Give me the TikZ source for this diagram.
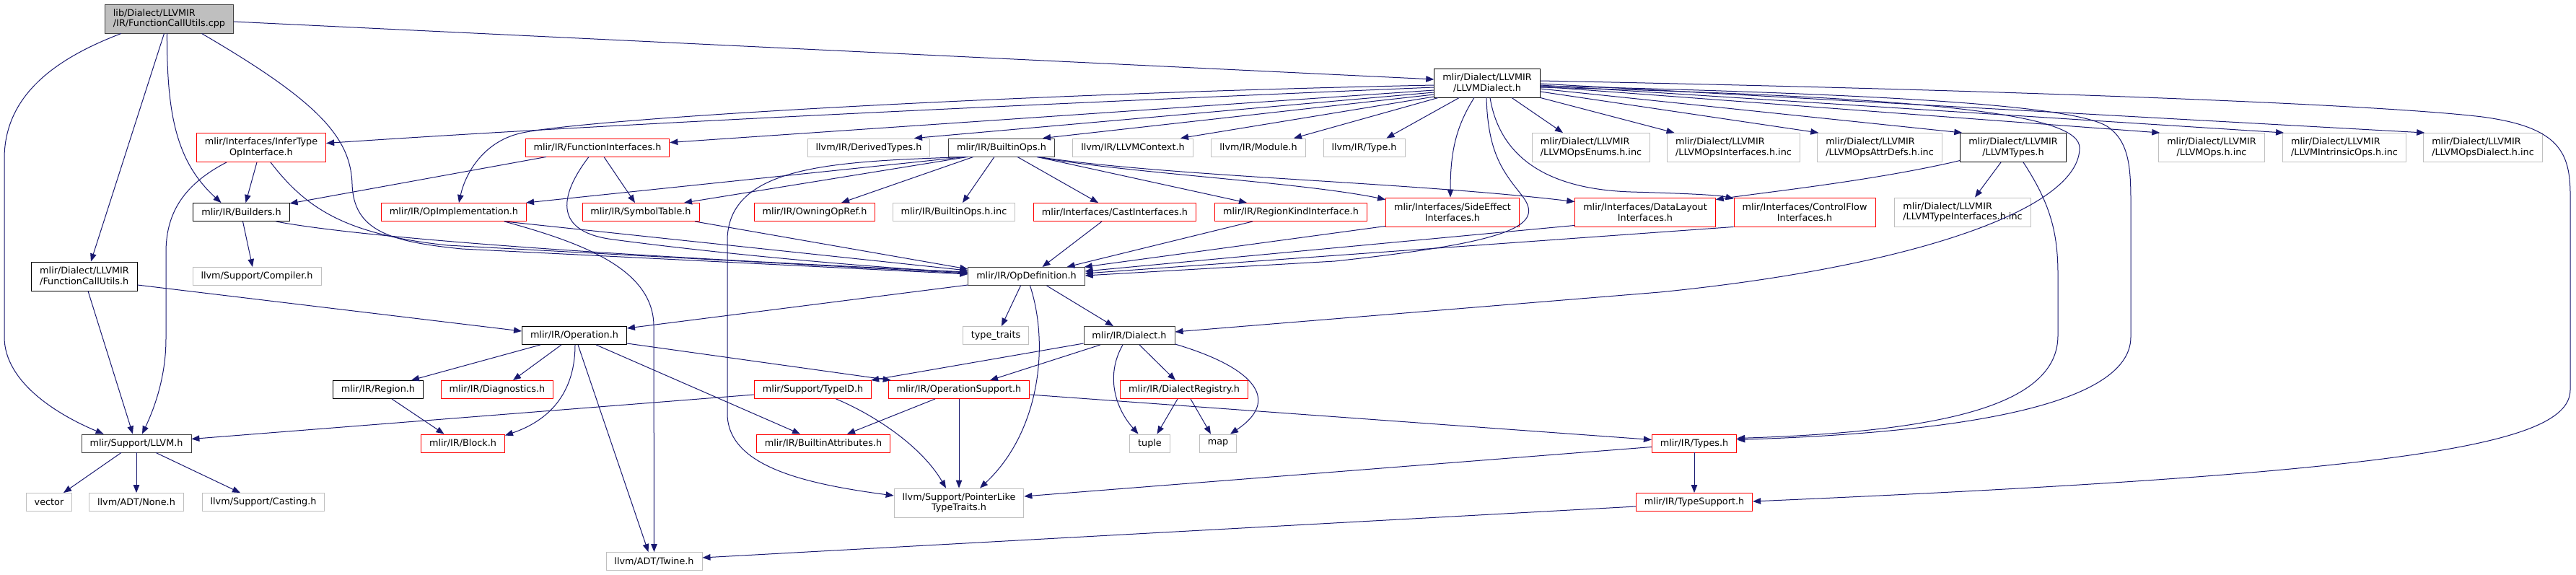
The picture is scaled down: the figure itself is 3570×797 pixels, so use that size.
\documentclass[tikz,border=0pt]{standalone}
\usepackage{fontspec}
\setmainfont{DejaVu Sans}
\usepackage{xcolor}
\usetikzlibrary{arrows.meta}
\definecolor{edgeblue}{HTML}{191970}
\definecolor{boxgray}{HTML}{BFBFBF}
\definecolor{boxdark}{HTML}{404040}

\begin{document}
\begin{tikzpicture}[x=1pt, y=-1pt,
    >={Triangle[length=11pt,width=8.5pt]},
    file/.style={draw, line width=0.9pt, fill=white, inner xsep=11.5pt, inner ysep=2pt,
        minimum height=25pt, align=center, font=\fontsize{12.8}{14.6}\selectfont},
    two/.style={minimum height=40pt},
    doc/.style={file, draw=black},
    dark/.style={file, draw=boxdark},
    trunc/.style={file, draw=red},
    ext/.style={file, draw=boxgray},
    dep/.style={->, color=edgeblue, line width=1pt}]
    \useasboundingbox (0,0) rectangle (3570,797);

    % 1. Files, row by row
    \node[file, fill=boxgray, draw=boxdark, two, align=left] (root) at (234.5,26) {lib/Dialect/LLVMIR\\/IR/FunctionCallUtils.cpp};
    \node[doc, two] (dial) at (2061,115) {mlir/Dialect/LLVMIR\\/LLVMDialect.h};

    \node[trunc, two] (infer) at (362,204.5) {mlir/Interfaces/InferType\\OpInterface.h};
    \node[trunc] (funcif) at (828,204.5) {mlir/IR/FunctionInterfaces.h};
    \node[ext] (derived) at (1204,204.5) {llvm/IR/DerivedTypes.h};
    \node[dark] (bops) at (1388,204.5) {mlir/IR/BuiltinOps.h};
    \node[ext] (ctx) at (1570,204.5) {llvm/IR/LLVMContext.h};
    \node[ext] (module) at (1744,204.5) {llvm/IR/Module.h};
    \node[ext] (type) at (1890.5,204.5) {llvm/IR/Type.h};
    \node[ext, two, align=left] (enums) at (2205,204.5) {mlir/Dialect/LLVMIR\\/LLVMOpsEnums.h.inc};
    \node[ext, two, align=left] (opsif) at (2402.5,204.5) {mlir/Dialect/LLVMIR\\/LLVMOpsInterfaces.h.inc};
    \node[ext, two, align=left] (attr) at (2605,204.5) {mlir/Dialect/LLVMIR\\/LLVMOpsAttrDefs.h.inc};
    \node[doc, two] (ltypes) at (2790,204.5) {mlir/Dialect/LLVMIR\\/LLVMTypes.h};
    \node[ext, two] (opsinc) at (3065,204.5) {mlir/Dialect/LLVMIR\\/LLVMOps.h.inc};
    \node[ext, two, align=left] (intr) at (3249,204.5) {mlir/Dialect/LLVMIR\\/LLVMIntrinsicOps.h.inc};
    \node[ext, two, align=left] (opsdial) at (3441,204.5) {mlir/Dialect/LLVMIR\\/LLVMOpsDialect.h.inc};

    \node[doc] (builders) at (334.5,294) {mlir/IR/Builders.h};
    \node[trunc] (opimpl) at (629,294) {mlir/IR/OpImplementation.h};
    \node[trunc] (symtab) at (888,294) {mlir/IR/SymbolTable.h};
    \node[trunc] (owning) at (1129,294) {mlir/IR/OwningOpRef.h};
    \node[ext] (bopsinc) at (1322,294) {mlir/IR/BuiltinOps.h.inc};
    \node[trunc] (cast) at (1545,294) {mlir/Interfaces/CastInterfaces.h};
    \node[trunc] (regkind) at (1789,294) {mlir/IR/RegionKindInterface.h};
    \node[trunc, two] (sideeff) at (2013,294) {mlir/Interfaces/SideEffect\\Interfaces.h};
    \node[trunc, two] (layout) at (2280,294) {mlir/Interfaces/DataLayout\\Interfaces.h};
    \node[trunc, two] (ctrlflow) at (2501,294) {mlir/Interfaces/ControlFlow\\Interfaces.h};
    \node[ext, two, align=left] (typeif) at (2720,294) {mlir/Dialect/LLVMIR\\/LLVMTypeInterfaces.h.inc};

    \node[doc, two, align=left] (fcu) at (117,383) {mlir/Dialect/LLVMIR\\/FunctionCallUtils.h};
    \node[ext] (compiler) at (356,383) {llvm/Support/Compiler.h};
    \node[dark] (opdef) at (1422.5,383) {mlir/IR/OpDefinition.h};

    \node[doc] (operation) at (796,465) {mlir/IR/Operation.h};
    \node[ext] (traits) at (1380,465) {type\_traits};
    \node[dark] (dialect) at (1565,465) {mlir/IR/Dialect.h};

    \node[doc] (region) at (524,540) {mlir/IR/Region.h};
    \node[trunc] (diag) at (689,540) {mlir/IR/Diagnostics.h};
    \node[trunc] (typeid) at (1126.5,540) {mlir/Support/TypeID.h};
    \node[trunc] (opsupp) at (1329,540) {mlir/IR/OperationSupport.h};
    \node[trunc] (dreg) at (1641,540) {mlir/IR/DialectRegistry.h};

    \node[dark] (llvm) at (189,614.5) {mlir/Support/LLVM.h};
    \node[trunc] (block) at (641.5,614.5) {mlir/IR/Block.h};
    \node[trunc] (battr) at (1141,614.5) {mlir/IR/BuiltinAttributes.h};
    \node[ext] (tuple) at (1593.5,614.5) {tuple};
    \node[ext] (map) at (1688,614.5) {map};
    \node[trunc] (types) at (2348,614.5) {mlir/IR/Types.h};

    \node[ext] (vector) at (68,696) {vector};
    \node[ext] (none) at (189,696) {llvm/ADT/None.h};
    \node[ext] (casting) at (365,696) {llvm/Support/Casting.h};
    \node[ext, two] (ptrlike) at (1329,697) {llvm/Support/PointerLike\\TypeTraits.h};
    \node[trunc] (tsupp) at (2348,696) {mlir/IR/TypeSupport.h};

    \node[ext] (twine) at (906.5,778) {llvm/ADT/Twine.h};

    % 2. Includes of the source file
    \draw[dep] ([yshift=-4pt]root.east) -- ([yshift=5pt]dial.west);
    \draw[dep] ([xshift=23pt]root.south west) .. controls (80,80) and (6,130) .. (6,220) -- (6,467)
        .. controls (6,530) and (80,575) .. ([xshift=31pt]llvm.north west);
    \draw[dep] ([xshift=-7pt]root.south) -- ([xshift=9pt]fcu.north);
    \draw[dep] ([xshift=-3pt]root.south) .. controls (231,160) and (245,225) .. ([xshift=-28pt]builders.north);
    \draw[dep] ([xshift=45pt]root.south) .. controls (440,140) and (486,190) .. (488,255)
        .. controls (490,320) and (540,335) .. (640,345) -- ([yshift=3pt]opdef.west);

    % 3. LLVMDialect.h
    \draw[dep] ([yshift=-3pt]dial.west) .. controls (1400,130) and (800,165) .. (720,185)
        .. controls (670,197) and (645,240) .. ([xshift=7pt]opimpl.north);
    \draw[dep] ([yshift=-6pt]dial.west) .. controls (1300,150) and (800,175) .. ([yshift=6pt]infer.east);
    \draw[dep] ([yshift=-10pt]dial.west) -- ([yshift=7pt]funcif.east);
    \draw[dep] ([yshift=-13pt]dial.west) -- ([xshift=63pt]derived.north);
    \draw[dep] ([yshift=-16pt]dial.west) -- ([xshift=57pt]bops.north);
    \draw[dep] ([yshift=-19pt]dial.west) -- ([xshift=66pt]ctx.north);
    \draw[dep] ([xshift=6pt]dial.south west) -- ([xshift=49pt]module.north);
    \draw[dep] ([xshift=35pt]dial.south west) -- ([xshift=31pt]type.north);
    \draw[dep] ([xshift=34pt]dial.south) -- ([xshift=-39pt]enums.north);
    \draw[dep] (dial.south east) -- ([xshift=-82pt]opsif.north);
    \draw[dep] ([yshift=-12pt]dial.east) -- ([xshift=2pt]attr.north west);
    \draw[dep] ([yshift=-8pt]dial.east) -- ([xshift=3pt]ltypes.north west);
    \draw[dep] ([yshift=-5pt]dial.east) -- ([xshift=2pt]opsinc.north west);
    \draw[dep] ([yshift=-3pt]dial.east) -- ([xshift=2pt]intr.north west);
    \draw[dep] ([yshift=-1pt]dial.east) -- ([xshift=2pt]opsdial.north west);
    \draw[dep] ([yshift=3pt]dial.east) .. controls (2800,125) and (3300,145) .. (3440,162)
        .. controls (3545,176) and (3562,210) .. (3562,270) -- (3562,540)
        .. controls (3562,615) and (3350,655) .. ([yshift=1pt]tsupp.east);
    \draw[dep] ([yshift=-4pt]dial.east) .. controls (2600,130) and (2870,145) .. (2920,175)
        .. controls (2950,195) and (2953,230) .. (2953,280) -- (2953,467)
        .. controls (2953,565) and (2700,600) .. ([yshift=5pt]types.east);
    \draw[dep] ([yshift=-6pt]dial.east) .. controls (2700,135) and (2882,160) .. (2882,205)
        .. controls (2882,290) and (2650,370) .. (2300,405) -- ([yshift=5pt]dialect.east);
    \draw[dep] ([xshift=-18pt]dial.south) .. controls (2018,175) and (2010,210) .. ([xshift=-3pt]sideeff.north);
    \draw[dep] ([xshift=-1pt]dial.south) .. controls (2062,215) and (2085,240) .. (2110,272)
        .. controls (2140,312) and (2100,335) .. (1850,362) -- ([yshift=1pt]opdef.east);
    \draw[dep] ([xshift=4pt]dial.south) .. controls (2078,215) and (2140,262) .. (2260,266)
        .. controls (2330,268) and (2380,270) .. ([yshift=-2pt]ctrlflow.north west);

    % 4. Second row
    \draw[dep] ([xshift=-48pt]infer.south) .. controls (250,258) and (230,300) .. (230,350) -- (230,470)
        .. controls (230,525) and (212,570) .. ([xshift=8pt]llvm.north);
    \draw[dep] ([xshift=-6pt]infer.south) -- ([xshift=6pt]builders.north);
    \draw[dep] ([xshift=13pt]infer.south) .. controls (425,290) and (480,325) .. (620,340) -- ([yshift=4pt]opdef.west);
    \draw[dep] ([xshift=-71pt]funcif.south) -- ([yshift=-1pt]builders.north east);
    \draw[dep] ([xshift=-12pt]funcif.south) .. controls (772,275) and (770,322) .. (850,332)
        .. controls (1000,352) and (1200,370) .. ([yshift=5pt]opdef.west);
    \draw[dep] ([xshift=9pt]funcif.south) -- ([xshift=-8pt]symtab.north);
    \draw[dep] ([xshift=-50pt]bops.south) .. controls (1160,224) and (1012,228) .. (1008,330) -- (1008,575)
        .. controls (1010,645) and (1110,670) .. ([yshift=10pt]ptrlike.west);
    \draw[dep] ([xshift=-50pt]bops.south) -- ([xshift=-1pt]opimpl.north east);
    \draw[dep] ([xshift=-47pt]bops.south) -- ([xshift=60pt]symtab.north);
    \draw[dep] ([xshift=-39pt]bops.south) -- ([xshift=37pt]owning.north);
    \draw[dep] ([xshift=-10pt]bops.south) -- ([xshift=12pt]bopsinc.north);
    \draw[dep] ([xshift=22pt]bops.south) -- ([xshift=-23pt]cast.north);
    \draw[dep] ([xshift=49pt]bops.south) -- ([xshift=-61pt]regkind.north);
    \draw[dep] ([xshift=49pt]bops.south) .. controls (1560,240) and (1800,252) .. ([yshift=-3pt]sideeff.north west);
    \draw[dep] ([xshift=51pt]bops.south) .. controls (1620,245) and (1950,252) .. ([yshift=-6pt]layout.north west);
    \draw[dep] ([yshift=-18pt]ltypes.west) .. controls (2600,250) and (2450,266) .. ([yshift=-3pt]layout.north east);
    \draw[dep] ([xshift=-17pt]ltypes.south) -- ([xshift=17pt]typeif.north);
    \draw[dep] ([xshift=14pt]ltypes.south) .. controls (2840,280) and (2852,320) .. (2852,380) -- (2852,465)
        .. controls (2852,560) and (2700,598) .. ([yshift=7pt]types.east);

    % 5. Third and fourth row
    \draw[dep] ([xshift=2pt]builders.south) -- ([xshift=-6pt]compiler.north);
    \draw[dep] ([xshift=48pt]builders.south) .. controls (460,322) and (700,348) .. ([yshift=6pt]opdef.west);
    \draw[dep] ([xshift=70pt]opimpl.south) -- ([yshift=8pt]opdef.west);
    \draw[dep] ([xshift=70pt]opimpl.south) .. controls (800,335) and (904,370) .. (906,450) -- (twine.north);
    \draw[dep] ([xshift=75pt]symtab.south) -- ([yshift=10pt]opdef.west);
    \draw[dep] ([xshift=-18pt]cast.south) -- ([xshift=22pt]opdef.north);
    \draw[dep] ([xshift=-53pt]regkind.south) -- ([xshift=56pt]opdef.north);
    \draw[dep] ([yshift=1pt]sideeff.south west) -- ([xshift=-1pt]opdef.north east);
    \draw[dep] ([yshift=2pt]layout.south west) -- ([yshift=7pt]opdef.east);
    \draw[dep] (ctrlflow.south west) -- ([yshift=4pt]opdef.east);
    \draw[dep] ([xshift=5pt]fcu.south) -- ([xshift=-5pt]llvm.north);
    \draw[dep] ([yshift=-12pt]fcu.east) -- ([yshift=6pt]operation.west);
    \draw[dep] ([yshift=-12pt]opdef.west) -- ([yshift=10pt]operation.east);
    \draw[dep] ([xshift=-8pt]opdef.south) -- ([xshift=8pt]traits.north);
    \draw[dep] ([xshift=5pt]opdef.south) .. controls (1455,480) and (1440,600) .. ([xshift=29pt]ptrlike.north);
    \draw[dep] ([xshift=28pt]opdef.south) -- ([xshift=-22pt]dialect.north);

    % 6. Lower rows
    \draw[dep] ([xshift=-47pt]operation.south) -- ([xshift=46pt]region.north);
    \draw[dep] ([xshift=-18pt]operation.south) -- ([xshift=22pt]diag.north);
    \draw[dep] ([xshift=1pt]operation.south) .. controls (797,530) and (775,578) .. ([yshift=-2pt]block.north east);
    \draw[dep] ([xshift=5pt]operation.south) -- ([xshift=-8pt]twine.north);
    \draw[dep] ([xshift=30pt]operation.south) -- ([xshift=-32pt]battr.north);
    \draw[dep] ([yshift=-11pt]operation.east) -- ([xshift=4pt]opsupp.north west);
    \draw[dep] ([yshift=-11pt]dialect.west) -- ([xshift=-1pt]typeid.north east);
    \draw[dep] ([xshift=-40pt]dialect.south) -- ([xshift=43pt]opsupp.north);
    \draw[dep] ([xshift=-9pt]dialect.south) .. controls (1532,520) and (1545,565) .. ([xshift=-16pt]tuple.north);
    \draw[dep] ([xshift=14pt]dialect.south) -- ([xshift=-12pt]dreg.north);
    \draw[dep] ([yshift=1pt]dialect.south east) .. controls (1740,510) and (1775,555) .. ([xshift=17pt]map.north);
    \draw[dep] ([xshift=-9pt]dreg.south) -- ([xshift=10pt]tuple.north);
    \draw[dep] ([xshift=9pt]dreg.south) -- ([xshift=-10pt]map.north);
    \draw[dep] ([xshift=19pt]region.south) -- ([xshift=-26pt]block.north);
    \draw[dep] ([yshift=-7pt]typeid.west) -- ([yshift=6pt]llvm.east);
    \draw[dep] ([xshift=32pt]typeid.south) .. controls (1205,572) and (1275,615) .. ([xshift=-18pt]ptrlike.north);
    \draw[dep] ([xshift=-33pt]opsupp.south) -- ([xshift=33pt]battr.north);
    \draw[dep] (opsupp.south) -- (ptrlike.north);
    \draw[dep] ([yshift=-7pt]opsupp.east) -- ([yshift=5pt]types.west);
    \draw[dep] (types.south) -- (tsupp.north);
    \draw[dep] ([yshift=-5pt]types.west) -- ([yshift=9pt]ptrlike.east);
    \draw[dep] ([yshift=-6pt]tsupp.west) -- ([yshift=5pt]twine.east);
    \draw[dep] ([xshift=-21pt]llvm.south) -- ([xshift=20pt]vector.north);
    \draw[dep] (llvm.south) -- (none.north);
    \draw[dep] ([xshift=27pt]llvm.south) -- ([xshift=-32pt]casting.north);
\end{tikzpicture}
\end{document}
